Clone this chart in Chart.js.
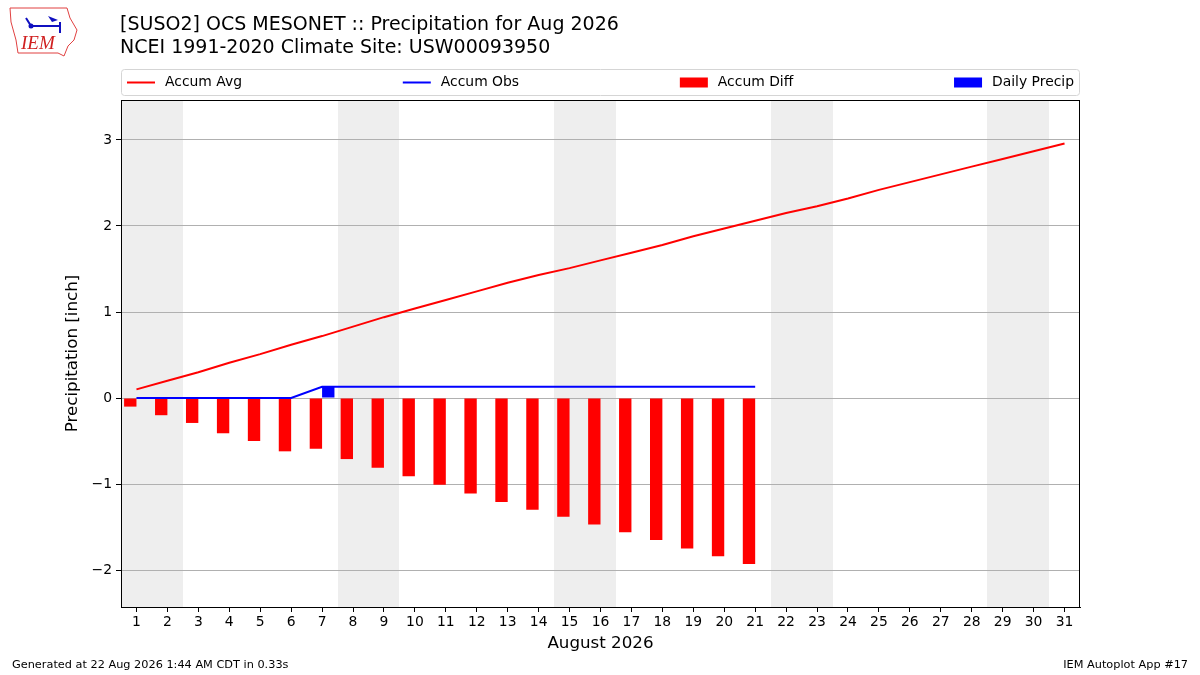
<!DOCTYPE html>
<html>
<head>
<meta charset="utf-8">
<script src="https://cdn.jsdelivr.net/npm/chart.js@4.4.1/dist/chart.umd.min.js"></script>
<style>
  body { margin: 0; background: #fff; }
  #wrap { position: relative; width: 1200px; height: 675px; }
</style>
</head>
<body>
<div id="wrap"><canvas id="mycanvas" width="1200" height="675"></canvas></div>
<script>
var days = [];
for (var d = 1; d <= 31; d++) days.push(String(d));

var accumAvg = [0.10, 0.20, 0.30, 0.41, 0.51, 0.62, 0.72, 0.83, 0.94, 1.04,
                1.14, 1.24, 1.34, 1.43, 1.51, 1.60, 1.69, 1.78, 1.88, 1.97,
                2.06, 2.15, 2.23, 2.32, 2.42, 2.51, 2.60, 2.69, 2.78, 2.87, 2.96];
var accumObs = [0, 0, 0, 0, 0, 0, 0.13, 0.13, 0.13, 0.13,
                0.13, 0.13, 0.13, 0.13, 0.13, 0.13, 0.13, 0.13, 0.13, 0.13, 0.13];
var accumDiff = [-0.10, -0.20, -0.29, -0.41, -0.50, -0.62, -0.59, -0.71, -0.81, -0.91,
                 -1.01, -1.11, -1.21, -1.30, -1.38, -1.47, -1.56, -1.65, -1.75, -1.84, -1.93];
var dailyPrecip = [0, 0, 0, 0, 0, 0, 0.13, 0, 0, 0,
                   0, 0, 0, 0, 0, 0, 0, 0, 0, 0, 0];
// weekend spans (first day, last day)
var weekendStart = [1, 8, 15, 22, 29];
var weekendEnd = [2, 9, 16, 23, 30];
var yTicks = [-2, -1, 0, 1, 2, 3];

var FONT = "'DejaVu Sans', sans-serif";

var decorPlugin = {
    id: 'decor',
    beforeDraw: function (chart) {
        var ctx = chart.ctx, x = chart.scales.x, a = chart.chartArea;
        var step = x.getPixelForValue(1) - x.getPixelForValue(0);
        ctx.save();
        ctx.fillStyle = '#eeeeee';
        weekendStart.forEach(function (day, i) {
            var x0 = Math.round(x.getPixelForValue(day - 1) - step / 2);
            var x1 = Math.round(x.getPixelForValue(weekendEnd[i] - 1) + step / 2);
            ctx.fillRect(x0, a.top, x1 - x0, a.bottom - a.top);
        });
        ctx.restore();
    },
    afterDraw: function (chart) {
        var ctx = chart.ctx, a = chart.chartArea;
        ctx.save();
        // frame
        ctx.strokeStyle = '#000';
        ctx.lineWidth = 1;
        ctx.strokeRect(Math.round(a.left) + 0.5, Math.round(a.top) + 0.5,
                       Math.round(a.right - a.left) - 1, Math.round(a.bottom - a.top));

        // titles
        ctx.fillStyle = '#000';
        ctx.textBaseline = 'middle';
        ctx.textAlign = 'left';
        ctx.font = '19px ' + FONT;
        ctx.fillText('[SUSO2] OCS MESONET :: Precipitation for Aug 2026', 120, 25);
        ctx.fillText('NCEI 1991-2020 Climate Site: USW00093950', 120, 48);

        // footer
        ctx.font = '11.3px ' + FONT;
        ctx.fillText('Generated at 22 Aug 2026 1:44 AM CDT in 0.33s', 12, 665);
        ctx.textAlign = 'right';
        ctx.fillText('IEM Autoplot App #17', 1188, 665);

        // legend (expanded across the top of the plot)
        var items = [
            {label: 'Accum Avg', color: 'red', kind: 'line'},
            {label: 'Accum Obs', color: 'blue', kind: 'line'},
            {label: 'Accum Diff', color: 'red', kind: 'box'},
            {label: 'Daily Precip', color: 'blue', kind: 'box'}
        ];
        var top = 69, h = 26, left = a.left, right = a.right;
        ctx.strokeStyle = '#d5d5d5';
        ctx.fillStyle = 'rgba(255,255,255,0.8)';
        ctx.beginPath();
        ctx.roundRect(left + 0.5, top + 0.5, right - left - 1, h, 3);
        ctx.fill();
        ctx.stroke();
        ctx.font = '13.9px ' + FONT;
        ctx.textAlign = 'left';
        var widths = items.map(function (it) { return 38 + ctx.measureText(it.label).width; });
        var total = widths.reduce(function (s, w) { return s + w; }, 0);
        var pad = 6;
        var gap = (right - left - 2 * pad - total) / (items.length - 1);
        var cx = left + pad, cy = top + h / 2 + 0.5;
        items.forEach(function (it, i) {
            if (it.kind === 'line') {
                ctx.strokeStyle = it.color;
                ctx.lineWidth = 2;
                ctx.beginPath();
                ctx.moveTo(cx, cy);
                ctx.lineTo(cx + 28, cy);
                ctx.stroke();
            } else {
                ctx.fillStyle = it.color;
                ctx.fillRect(cx, cy - 5, 28, 10);
            }
            ctx.fillStyle = '#000';
            ctx.fillText(it.label, cx + 38, cy);
            cx += widths[i] + gap;
        });

        // IEM logo (rough sketch)
        ctx.strokeStyle = '#e04040';
        ctx.lineWidth = 1;
        ctx.beginPath();
        ctx.moveTo(10, 8); ctx.lineTo(67, 8); ctx.lineTo(70, 18); ctx.lineTo(77, 30);
        ctx.lineTo(74, 40); ctx.lineTo(68, 46); ctx.lineTo(64, 56); ctx.lineTo(58, 53);
        ctx.lineTo(18, 53); ctx.lineTo(16, 40); ctx.lineTo(11, 22); ctx.closePath();
        ctx.stroke();
        ctx.strokeStyle = '#1010c0';
        ctx.fillStyle = '#1010c0';
        ctx.lineWidth = 2;
        ctx.beginPath();
        ctx.moveTo(31, 26); ctx.lineTo(60, 26);
        ctx.moveTo(26, 18); ctx.lineTo(31, 26);
        ctx.moveTo(60, 22); ctx.lineTo(60, 33);
        ctx.stroke();
        ctx.beginPath();
        ctx.arc(31, 26, 2.5, 0, Math.PI * 2);
        ctx.fill();
        ctx.beginPath();
        ctx.moveTo(48, 16); ctx.lineTo(58, 20); ctx.lineTo(52, 22); ctx.closePath();
        ctx.fill();
        ctx.fillStyle = '#d02020';
        ctx.font = 'italic 19px "Liberation Serif", serif';
        ctx.textAlign = 'left';
        ctx.fillText('IEM', 21, 44);
        ctx.restore();
    }
};

var ctx = document.getElementById('mycanvas');
var chart = new Chart(ctx, {
    type: 'bar',
    data: {
        labels: days,
        datasets: [
            {
                type: 'line', label: 'Accum Avg', data: accumAvg,
                borderColor: 'red', backgroundColor: 'red', borderWidth: 2,
                pointRadius: 0, tension: 0, fill: false, order: 0
            },
            {
                type: 'line', label: 'Accum Obs', data: accumObs,
                borderColor: 'blue', backgroundColor: 'blue', borderWidth: 2,
                pointRadius: 0, tension: 0, fill: false, order: 0
            },
            {
                label: 'Accum Diff', data: accumDiff, backgroundColor: 'red',
                barPercentage: 1.0, categoryPercentage: 0.8, order: 1
            },
            {
                label: 'Daily Precip', data: dailyPrecip, backgroundColor: 'blue',
                barPercentage: 1.0, categoryPercentage: 0.8, order: 1
            }
        ]
    },
    options: {
        responsive: false,
        animation: false,
        devicePixelRatio: 1,
        layout: { padding: { left: 63, top: 100, right: 120, bottom: 21 } },
        plugins: {
            legend: { display: false },
            title: { display: false },
            tooltip: { enabled: false }
        },
        scales: {
            x: {
                offset: true,
                afterFit: function (scale) { scale.height = 47; },
                grid: { display: true, drawOnChartArea: false, offset: false,
                        tickLength: 5, tickColor: '#000' },
                border: { display: true, color: '#000' },
                ticks: { autoSkip: false, maxRotation: 0, color: '#000', padding: 2,
                         font: { family: FONT, size: 13.9 } },
                title: { display: true, text: 'August 2026', color: '#000', padding: 0,
                         font: { family: FONT, size: 16.7 } }
            },
            y: {
                min: -2.43, max: 3.465,
                afterFit: function (scale) { scale.width = 58; },
                afterBuildTicks: function (scale) {
                    scale.ticks = yTicks.map(function (v) { return {value: v}; });
                },
                grid: { color: '#b0b0b0', tickLength: 5, tickColor: '#000' },
                border: { display: true, color: '#000' },
                ticks: {
                    color: '#000', padding: 4,
                    font: { family: FONT, size: 13.9 },
                    callback: function (v) { return v < 0 ? '\u2212' + Math.abs(v) : String(v); }
                },
                title: { display: true, text: 'Precipitation [inch]', color: '#000', padding: 0,
                         font: { family: FONT, size: 16.7 } }
            }
        }
    },
    plugins: [decorPlugin]
});
</script>
</body>
</html>
